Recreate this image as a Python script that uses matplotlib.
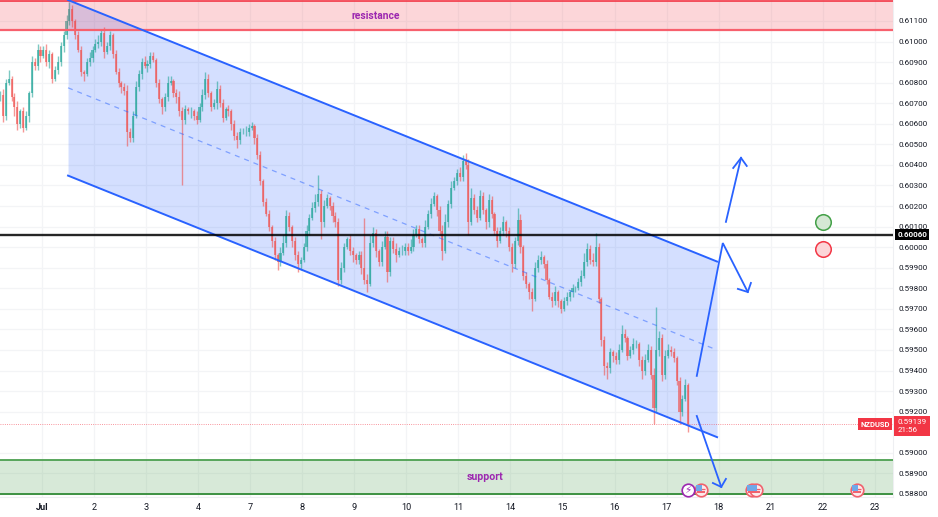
import numpy as np
import matplotlib
matplotlib.use('Agg')
import matplotlib.pyplot as plt

plt.rcParams['font.family'] = ['Roboto', 'DejaVu Sans']

# hourly-ish closes, in 1/10000 of a price unit, one row per trading day
closes = [
    6074, 6064, 6080, 6082, 6073, 6068, 6060, 6066, 6058, 6064, 6075, 6090, 6088, 6096, 6093, 6096, 6090, 6094,
    6082, 6086, 6090, 6098, 6103, 6110, 6116, 6110, 6103, 6096, 6085, 6084, 6090, 6092, 6096, 6099, 6100, 6104,
    6095, 6098, 6103, 6094, 6085, 6080, 6078, 6076, 6056, 6053, 6064, 6078, 6084, 6090, 6088, 6089, 6093, 6091,
    6080, 6072, 6068, 6073, 6080, 6081, 6075, 6073, 6066, 6062, 6067, 6066, 6066, 6064, 6062, 6068, 6074, 6082,
    6075, 6068, 6070, 6077, 6070, 6063, 6067, 6066, 6060, 6054, 6052, 6056, 6056, 6056, 6058, 6059, 6053, 6045,
    6032, 6022, 6016, 6010, 6003, 5996, 5993, 5997, 6002, 6015, 6010, 6003, 5996, 5992, 5994, 6000, 6008, 6014,
    6019, 6022, 6026, 6012, 6020, 6024, 6020, 6015, 6012, 5984, 5990, 6000, 6004, 5998, 5996, 5994, 5996, 5990,
    5984, 5982, 6002, 6007, 5998, 5993, 6000, 6005, 5988, 6003, 5999, 5996, 5998, 5998, 6000, 5998, 6000, 6006,
    6009, 6004, 6002, 6010, 6016, 6021, 6025, 6018, 6008, 5998, 6012, 6021, 6029, 6032, 6036, 6034, 6042, 6040,
    6012, 6024, 6018, 6014, 6025, 6018, 6012, 6023, 6016, 6008, 6003, 6008, 6012, 6008, 6000, 5992, 6003, 6013,
    6000, 5986, 5982, 5978, 5975, 5990, 5994, 5995, 5992, 5984, 5976, 5974, 5978, 5974, 5970, 5974, 5976, 5978,
    5980, 5980, 5983, 5986, 5993, 5999, 5994, 5993, 6000, 5975, 5955, 5942, 5941, 5949, 5947, 5945, 5950, 5958,
    5956, 5947, 5950, 5953, 5953, 5945, 5940, 5945, 5950, 5938, 5922, 5950, 5956, 5938, 5947, 5950, 5949, 5946,
    5935, 5920, 5926, 5933, 5914,
]
wick_up = [
    2, 3, 2, 4, 1, 2, 3, 1, 2, 2, 1, 3, 2, 3, 2, 2, 3, 2,
    1, 2, 3, 2, 2, 3, 3, 2, 1, 2, 2, 1, 2, 3, 2, 2, 3, 2,
    3, 2, 2, 1, 2, 2, 1, 2, 3, 2, 2, 3, 2, 2, 3, 2, 2, 2,
    1, 2, 1, 2, 3, 2, 1, 2, 3, 2, 2, 1, 2, 1, 2, 2, 3, 3,
    2, 1, 2, 4, 2, 2, 1, 2, 1, 2, 2, 2, 2, 3, 2, 2, 1, 2,
    2, 1, 2, 2, 1, 2, 1, 3, 4, 3, 2, 1, 2, 2, 1, 2, 3, 2,
    3, 4, 9, 2, 3, 2, 1, 2, 2, 2, 3, 2, 1, 2, 2, 1, 2, 2,
    24, 3, 4, 3, 2, 1, 3, 3, 3, 2, 2, 3, 2, 3, 2, 2, 4, 3,
    2, 2, 1, 3, 2, 3, 2, 1, 2, 3, 4, 2, 3, 2, 2, 3, 3, 4,
    3, 5, 2, 2, 3, 2, 1, 3, 2, 1, 2, 2, 3, 1, 2, 2, 2, 6,
    3, 1, 2, 1, 2, 3, 2, 3, 1, 2, 1, 2, 3, 1, 1, 2, 2, 1,
    2, 1, 2, 3, 4, 3, 2, 3, 7, 2, 1, 2, 2, 2, 1, 2, 3, 4,
    2, 1, 2, 3, 2, 1, 2, 3, 3, 2, 3, 21, 3, 2, 3, 3, 2, 2,
    1, 2, 2, 3, 1,
]
wick_dn = [
    3, 3, 2, 1, 2, 4, 3, 2, 2, 1, 3, 2, 2, 2, 3, 1, 2, 3,
    2, 1, 2, 2, 3, 2, 2, 3, 2, 1, 2, 3, 1, 2, 2, 1, 2, 2,
    3, 1, 2, 2, 1, 2, 3, 2, 7, 2, 2, 1, 2, 2, 1, 3, 2, 1,
    2, 2, 3, 2, 2, 1, 2, 3, 2, 32, 2, 1, 3, 2, 2, 1, 2, 2,
    2, 2, 1, 3, 2, 2, 1, 2, 3, 2, 4, 2, 1, 2, 2, 1, 3, 2,
    2, 2, 1, 2, 3, 2, 4, 2, 1, 2, 2, 3, 2, 4, 3, 1, 2, 2,
    1, 2, 2, 8, 2, 1, 2, 3, 2, 3, 2, 2, 1, 2, 3, 2, 2, 3,
    2, 4, 1, 2, 3, 2, 2, 1, 5, 2, 2, 3, 1, 2, 2, 2, 1, 2,
    1, 2, 2, 2, 1, 2, 1, 3, 2, 4, 1, 2, 2, 1, 2, 2, 2, 2,
    6, 1, 2, 2, 1, 2, 3, 2, 2, 2, 3, 1, 2, 3, 2, 4, 2, 2,
    3, 2, 2, 3, 6, 1, 2, 2, 2, 2, 1, 3, 2, 3, 2, 1, 2, 2,
    2, 2, 1, 2, 1, 2, 2, 2, 2, 2, 3, 4, 5, 2, 3, 2, 2, 1,
    2, 2, 1, 2, 2, 3, 4, 2, 1, 2, 8, 2, 3, 3, 2, 1, 2, 2,
    2, 6, 2, 1, 4,
]

day_labels = ['Jul', '2', '3', '4', '7', '8', '9', '10', '11', '14', '15', '16', '17', '18', '21', '22', '23']
price_ticks = [0.58800, 0.58900, 0.59000, 0.59200, 0.59300, 0.59400, 0.59500, 0.59600, 0.59700, 0.59800, 0.59900,
               0.60000, 0.60100, 0.60200, 0.60300, 0.60400, 0.60500, 0.60600, 0.60700, 0.60800, 0.60900, 0.61000, 0.61100]

# drawings, days from 1 Jul (trading days) and price
channel_days = [0.50, 12.97]
channel_top = [0.61202, 0.59930]
channel_bottom = [0.60348, 0.59076]
mid_days = [0.50, 12.89]
mid_prices = [0.60775, 0.59508]

res_zone = [0.61056, 0.61195]
sup_zone = [0.58800, 0.58965]
level = 0.60060
last_price = 0.59139

arrow1_days = [12.58, 13.08, 13.56]
arrow1_prices = [0.59374, 0.60020, 0.59782]
head1_days = [13.37, 13.56, 13.62]
head1_prices = [0.59797, 0.59782, 0.59826]
arrow2_days = [13.14, 13.43]
arrow2_prices = [0.60123, 0.60434]
head2_days = [13.28, 13.43, 13.54]
head2_prices = [0.60385, 0.60434, 0.60395]
arrow3_days = [12.58, 13.05]
arrow3_prices = [0.59179, 0.58834]
head3_days = [12.89, 13.05, 13.14]
head3_prices = [0.58853, 0.58834, 0.58873]

event_days = [12.66, 13.64, 13.72, 15.66]
event_price = 0.58819
bolt_day = 12.41

BLUE = '#2962ff'
RED = '#f23645'
UP = '#26a69a'
DOWN = '#ef5350'

fig = plt.figure(figsize=(9.38, 5.17), dpi=100)
ax = fig.add_axes([0, 20 / 517, 893 / 938, 497 / 517])
ax.set_xlim(-0.807, 16.35)
ax.set_ylim(0.58785, 0.61202)

ax.set_xticks(range(len(day_labels)))
ax.set_xticklabels(day_labels, fontsize=6.6, color='#131722')
ax.get_xticklabels()[0].set_fontweight('bold')
ax.yaxis.tick_right()
ax.set_yticks(price_ticks)
ax.set_yticklabels(['%.5f' % p for p in price_ticks], fontsize=5.8, color='#131722')
ax.tick_params(length=0, pad=4)
ax.grid(True, color='#f3f4f6', lw=0.9)
ax.set_axisbelow(True)
for side in ['top', 'left']:
    ax.spines[side].set_visible(False)
for side in ['right', 'bottom']:
    ax.spines[side].set_color('#eeeff2')

# candles
c = np.array(closes) / 10000
o = np.r_[c[0], c[:-1]]
up = np.array(wick_up) / 10000
dn = np.array(wick_dn) / 10000
x = -0.807 + np.arange(len(c)) / 18
hi = np.maximum(o, c) + up
lo = np.minimum(o, c) - dn
cols = np.where(c >= o, UP, DOWN)
ax.vlines(x, lo, hi, colors=cols, lw=1.0, alpha=0.6, zorder=3)
ax.bar(x, np.abs(c - o), bottom=np.minimum(o, c), width=0.04, color=cols, alpha=0.65, lw=0, zorder=3)

# zones
ax.axhspan(res_zone[0], res_zone[1], color=RED, alpha=0.2, lw=0, zorder=4)
ax.axhline(res_zone[1], color=RED, lw=1.2, zorder=4)
ax.axhline(res_zone[0], color='#f7606d', lw=1.6, zorder=4)
ax.axhspan(sup_zone[0], sup_zone[1], color='#4c9f50', alpha=0.22, lw=0, zorder=4)
ax.axhline(sup_zone[1], color='#4c9f50', lw=1.3, zorder=4)
ax.axhline(sup_zone[0], color='#3d9142', lw=1.4, zorder=4)
ax.text(6.42, 0.61125, 'resistance', color='#9c27b0', fontsize=7.4, fontweight='bold', ha='center', va='center', zorder=6)
ax.text(8.51, 0.58882, 'support', color='#9c27b0', fontsize=7.6, fontweight='bold', ha='center', va='center', zorder=6)

# channel
ax.fill_between(channel_days, channel_bottom, channel_top, color=BLUE, alpha=0.2, lw=0, zorder=2)
ax.plot(channel_days, channel_top, color=BLUE, lw=1.4, zorder=5)
ax.plot(channel_days, channel_bottom, color=BLUE, lw=1.4, zorder=5)
ax.plot(mid_days, mid_prices, color=BLUE, lw=0.9, ls=(0, (4, 4)), alpha=0.5, zorder=5)

# levels
ax.axhline(level, color='black', lw=1.7, alpha=0.85, zorder=5)
ax.axhline(last_price, color=RED, lw=0.6, ls=':', alpha=0.7, zorder=2)

# arrows
for dd, pp in [(arrow1_days, arrow1_prices), (head1_days, head1_prices),
               (arrow2_days, arrow2_prices), (head2_days, head2_prices),
               (arrow3_days, arrow3_prices), (head3_days, head3_prices)]:
    ax.plot(dd, pp, color=BLUE, lw=1.3, zorder=6, solid_joinstyle='miter')

# circles
ax.scatter([15.0], [0.60123], s=125, facecolor='#d5e8d4', edgecolor='#43a047', lw=1.1, zorder=6)
ax.scatter([15.0], [0.59991], s=125, facecolor='#fcd5d8', edgecolor=RED, lw=1.1, zorder=6)

# event icons
ax.scatter(event_days, [event_price] * 4, s=82, facecolor='#fde9ea', edgecolor='#f0616d', lw=1.2, zorder=7)
ax.scatter(event_days, [event_price - 0.00008] * 4, s=30, marker='_', color='#f0616d', lw=1.4, zorder=8)
ax.scatter(event_days, [event_price + 0.00006] * 4, s=30, marker='_', color='#f0616d', lw=0.9, zorder=8)
ax.scatter(np.array(event_days) - 0.035, [event_price + 0.0001] * 4, s=14, marker='s', color='#6fa8e8', lw=0, zorder=8)
ax.scatter([bolt_day], [event_price], s=82, facecolor='white', edgecolor='#9c27b0', lw=1.2, zorder=7)
ax.text(bolt_day, event_price, '\u26a1', color='#9c27b0', fontsize=7.5, ha='center', va='center',
        family='DejaVu Sans', zorder=8)

# price labels on the axis
ax.annotate('0.60060', xy=(1, level), xycoords=('axes fraction', 'data'), xytext=(3, 0), textcoords='offset points',
            color='white', fontsize=5.8, fontweight='bold', va='center', ha='left',
            bbox=dict(boxstyle='square,pad=0.25', fc='black', ec='none'), zorder=9)
ax.annotate('NZDUSD', xy=(1, last_price), xycoords=('axes fraction', 'data'), xytext=(-13, 0), textcoords='offset points',
            color='white', fontsize=5.5, fontweight='bold', va='center', ha='center',
            bbox=dict(boxstyle='square,pad=0.3', fc=RED, ec='none'), zorder=9)
ax.annotate('0.59139\n21:56', xy=(1, last_price), xycoords=('axes fraction', 'data'), xytext=(3, 3.5), textcoords='offset points',
            color='white', fontsize=5.8, va='top', ha='left', linespacing=1.35,
            bbox=dict(boxstyle='square,pad=0.4', fc=RED, ec='none'), zorder=9)

fig.savefig('out.png', dpi=100)
